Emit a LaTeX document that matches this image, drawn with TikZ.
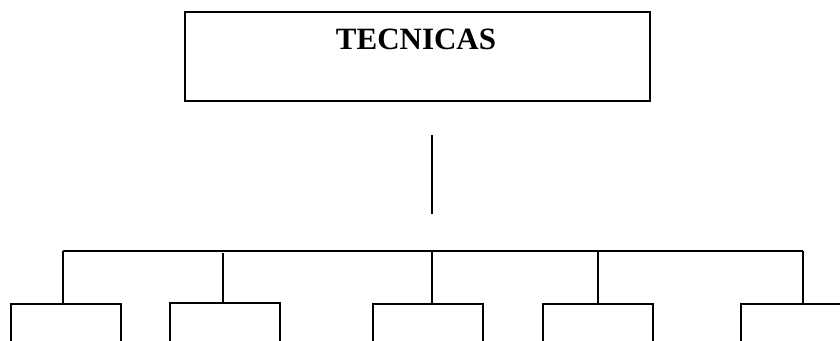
\documentclass[tikz,border=0pt]{standalone}
\usepackage{fontspec}
\setmainfont{Liberation Serif}
\begin{document}
\begin{tikzpicture}[x=1pt,y=-1pt,line width=1.5pt,
  topbox/.style={draw,line width=1.5pt,minimum width=465pt,minimum height=89pt,inner sep=0pt,anchor=north west},
  leafbox/.style={draw,line width=1.5pt,minimum width=110pt,minimum height=70pt,inner sep=0pt,anchor=north west},
  conn/.style={line width=1.5pt}]
\useasboundingbox (0,0) rectangle (840,340);
\clip (0,0) rectangle (840,340);
\node[topbox] (top) at (184,11) {};
\node[font=\bfseries\fontsize{31}{36}\selectfont,anchor=base] (title) at (416,49) {TECNICAS};
\coordinate (s1) at (432,135);
\coordinate (s2) at (432,214);
\draw[conn] (s1) -- (s2);
\node[leafbox] (b1) at (10,303) {};
\node[leafbox] (b2) at (169,302) {};
\node[leafbox] (b3) at (372,303) {};
\node[leafbox] (b4) at (542,303) {};
\node[leafbox] (b5) at (740,303) {};
\coordinate (h1) at (63,251);
\coordinate (h2) at (223,251);
\coordinate (h3) at (432,251);
\coordinate (h4) at (598,251);
\coordinate (h5) at (803,251);
\draw[conn] (h1) -- (h5);
\draw[conn] (h1) -- (h1 |- b1.north);
\draw[conn] ([yshift=-2pt]h2) -- (h2 |- b2.north);
\draw[conn] (h3) -- (h3 |- b3.north);
\draw[conn] (h4) -- (h4 |- b4.north);
\draw[conn] (h5) -- (h5 |- b5.north);
\end{tikzpicture}
\end{document}
